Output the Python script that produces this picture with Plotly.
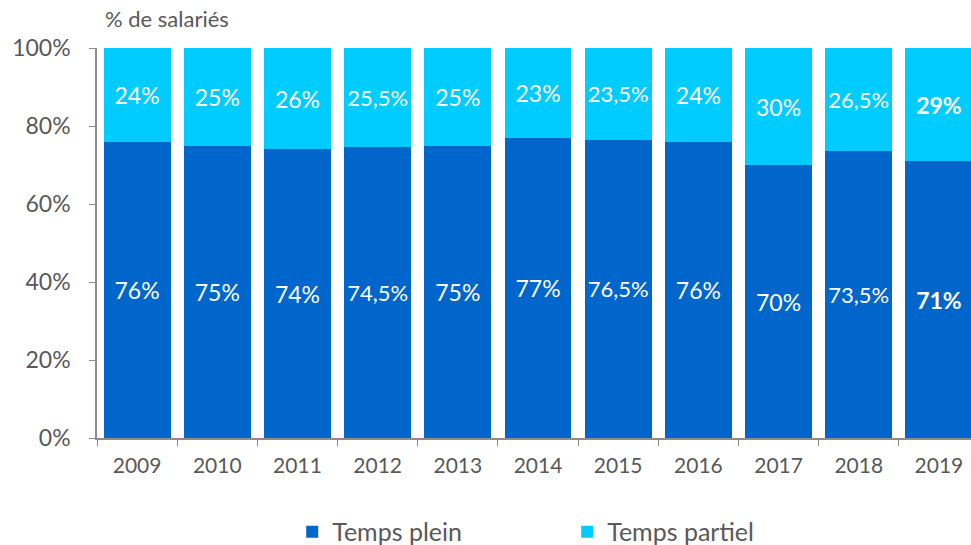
import plotly.graph_objects as go

years = ["2009", "2010", "2011", "2012", "2013", "2014", "2015", "2016", "2017", "2018", "2019"]
temps_plein = [76, 75, 74, 74.5, 75, 77, 76.5, 76, 70, 73.5, 71]
temps_partiel = [24, 25, 26, 25.5, 25, 23, 23.5, 24, 30, 26.5, 29]

FONT = "Lato, 'Open Sans', sans-serif"
GREY = "#595959"


def fr_pct(v, bold=False):
    s = (f"{v:g}").replace(".", ",") + "%"
    return f"<b>{s}</b>" if bold else s


def labels(vals):
    return [fr_pct(v, bold=(i == len(vals) - 1)) for i, v in enumerate(vals)]


fig = go.Figure()
fig.add_trace(go.Bar(
    x=years, y=temps_plein, name="Temps plein",
    marker=dict(color="#0066CC", line=dict(width=0)),
    text=labels(temps_plein), textposition="inside", insidetextanchor="middle",
    textfont=dict(color="white", size=23, family=FONT), textangle=0,
))
fig.add_trace(go.Bar(
    x=years, y=temps_partiel, name="Temps partiel",
    marker=dict(color="#00CCFF", line=dict(width=0)),
    text=labels(temps_partiel), textposition="inside", insidetextanchor="middle",
    textfont=dict(color="white", size=23, family=FONT), textangle=0,
))

fig.update_layout(
    barmode="stack",
    bargap=0.165,
    width=971, height=545,
    margin=dict(l=97, r=0, t=48, b=107, autoexpand=False),
    plot_bgcolor="white", paper_bgcolor="white",
    font=dict(family=FONT, color=GREY),
    legend=dict(
        orientation="h", traceorder="normal",
        x=0.538, xanchor="center", yref="container", y=0.024, yanchor="middle",
        font=dict(size=25, color=GREY), entrywidth=230, entrywidthmode="pixels",
    ),
    annotations=[dict(
        text="% de salariés", xref="paper", yref="paper", x=0.007, y=1.0,
        xanchor="left", yanchor="bottom", yshift=14, showarrow=False,
        font=dict(size=22, color=GREY, family=FONT),
    )],
)
fig.update_xaxes(
    type="category", range=[-0.5, 10.4],
    showline=True, linecolor="#8c8c8c", linewidth=1.5,
    ticks="outside", tickson="boundaries", ticklen=6, tickcolor="#8c8c8c",
    tickfont=dict(size=21, color=GREY), showgrid=False, ticklabelstandoff=8,
)
fig.update_yaxes(
    range=[0, 100], dtick=20, ticksuffix="%",
    showline=True, linecolor="#8c8c8c", linewidth=1.5,
    ticks="outside", ticklen=6, tickcolor="#8c8c8c",
    tickfont=dict(size=23, color=GREY), showgrid=False, zeroline=False,
    ticklabelstandoff=14,
)

fig.write_html("out.html")
